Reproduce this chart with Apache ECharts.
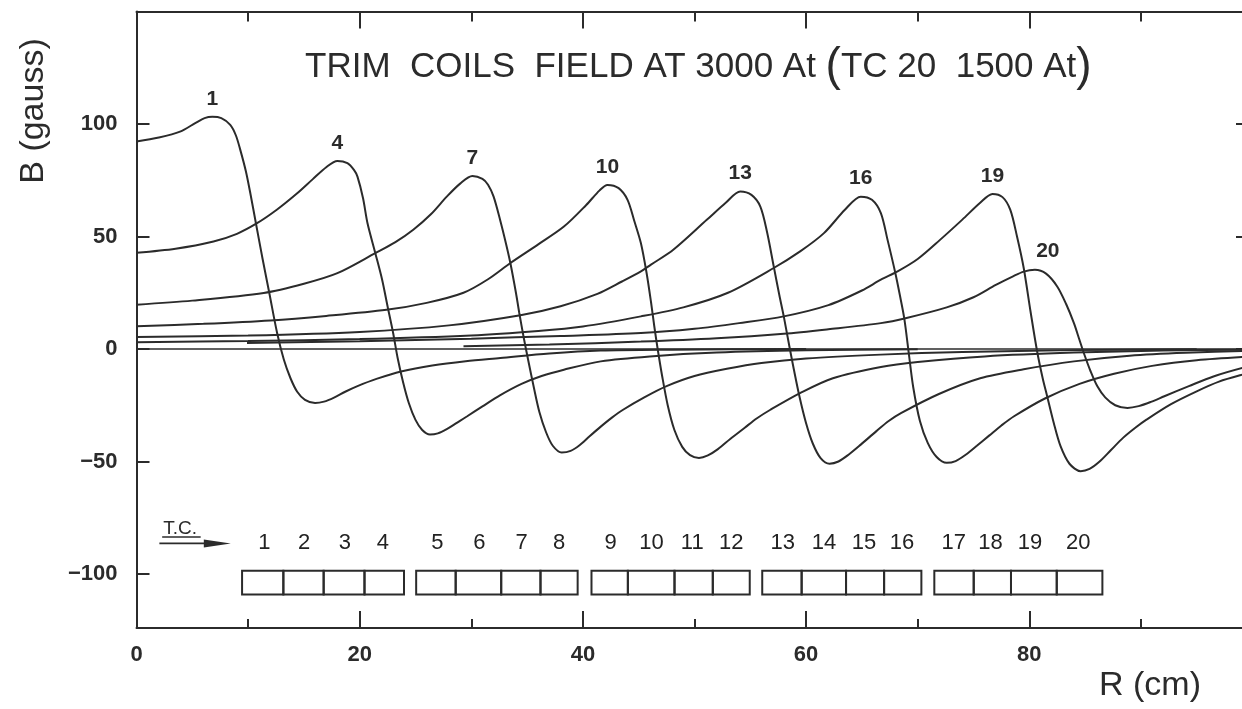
<!DOCTYPE html>
<html><head><meta charset="utf-8">
<script src="https://cdn.jsdelivr.net/npm/echarts@6/dist/echarts.min.js"></script>
<style>html,body{margin:0;padding:0;background:#fff}#c{width:1242px;height:709px}</style>
</head><body><div id="c"></div>
<script>
// ---- data (R in cm, B in gauss) ----
const curve1 = [[0,92.2],[2,94],[3.9,96.6],[5.3,100.5],[6.1,102.6],[6.8,103.2],[7.6,102.6],[8.4,99.6],[8.9,95],[9.3,88.5],[9.8,79],[10.2,69.2],[10.7,55.9],[11.3,40],[11.9,24.9],[12.6,7.1],[13.2,-4.7],[13.8,-13],[14.4,-19],[15.1,-22.6],[16,-24],[16.8,-23.4],[17.7,-21.6],[18.7,-19],[19.8,-16.5],[21.5,-13.3],[23.7,-10],[26.5,-7.3],[29.5,-5.4],[32.6,-4],[37,-2],[41.6,-0.7],[48,-0.3],[60,0]];
const curve4 = [[0,42.8],[3.5,44.6],[6.9,47.8],[9,51.2],[10.8,55.9],[12.6,62],[14.4,69.2],[15.8,75.5],[17,80.8],[18,83.6],[18.9,82.6],[19.5,79.5],[19.8,76.6],[20.3,67],[20.7,55.9],[21.4,42.6],[22,31],[22.5,18.9],[23,7],[23.4,-4],[23.9,-15],[24.4,-24],[25,-31.5],[25.6,-36],[26.3,-38],[27,-37.5],[27.8,-35.6],[28.7,-32.8],[29.6,-30],[31,-25.5],[32.6,-20.5],[34.5,-15.5],[36.3,-12],[38.3,-9.2],[41.6,-5.5],[46,-3.3],[52,-1.6],[60,-0.6],[70,-0.1]];
const curve7 = [[0,19.7],[5,21.5],[11.4,24.9],[15,29],[18,33.7],[21.4,42.6],[23.2,47.5],[24.8,53],[26.4,60],[27.8,67.7],[29,73.5],[30.1,76.9],[31,75.6],[31.5,73],[32,67.7],[32.6,57],[33.1,47],[33.5,38.2],[34,25],[34.3,16],[34.7,5],[35.1,-5],[35.6,-17],[36.1,-28],[36.7,-37],[37.3,-43],[38.1,-46],[38.9,-45.3],[39.7,-42.8],[40.6,-38.8],[41.6,-34.5],[42.6,-30.5],[43.6,-27],[45.5,-21.5],[47.5,-16.5],[50,-12],[52.9,-8.8],[56,-6.2],[60,-4.2],[66.7,-2.5],[74,-1.3],[84,-0.5],[95,-0.1]];
const curve10 = [[0,10.1],[6,11.2],[12,12.7],[17,14.7],[22.4,17.4],[26,20.5],[29.3,25],[31.5,31],[33.5,38.2],[36,46.5],[38.3,54.4],[40.3,64],[41.5,70.5],[42.2,72.9],[43.2,71.5],[44,66.3],[44.6,57],[45.2,47],[45.7,34],[46.1,21],[46.4,10],[46.7,0],[47.1,-12],[47.6,-25],[48.2,-36],[48.9,-43.5],[49.6,-47.2],[50.4,-48.4],[51.2,-47.3],[52.1,-44.5],[53.2,-40],[54.5,-35],[55.6,-30.8],[56.8,-27],[59.5,-19.5],[62.4,-13],[66.7,-8],[70,-5.8],[76,-3.3],[84,-1.6],[92,-0.7],[100,-0.3]];
const curve13 = [[0,5.3],[10,6],[20,7.6],[28,10.5],[34.4,15],[38,19],[41.3,24.5],[43.5,30],[45.2,34.5],[46.1,37.5],[48.1,44.1],[51.1,57.4],[52.8,65],[54.1,70],[55.1,68.5],[55.9,63.3],[56.5,52],[57.1,36.7],[57.6,24],[58,14.5],[58.5,1.2],[58.9,-9],[59.4,-21],[60,-33],[60.6,-42],[61.3,-48.5],[62.1,-51],[62.9,-50],[63.8,-47],[64.9,-42.5],[66.3,-36.5],[67.4,-32],[68.5,-28.5],[71.9,-20],[75.6,-13],[79.5,-9],[84,-5.5],[89,-3],[94,-1.7],[100,-0.8]];
const curve16 = [[0,3],[10,3.6],[20,4.4],[30,6],[36,8],[40,10],[45.2,14.5],[49,18.5],[53,25],[57.1,36],[59.5,43.5],[61.6,51.5],[63.5,62],[64.9,67.7],[65.9,66.3],[66.7,60.4],[67.3,48.5],[68,33.7],[68.4,24],[68.8,13.5],[69.2,-1.8],[69.6,-17],[70.2,-32],[70.9,-41.7],[71.7,-48],[72.6,-50.6],[73.4,-49.8],[74.3,-47],[75.3,-43],[76.4,-38.5],[77.5,-34],[78.6,-30],[81.4,-22],[84.5,-15.5],[87.6,-11],[91,-7.5],[95,-5],[100,-3.3]];
const curve19 = [[9.9,2.7],[20,3.4],[30,4.6],[38,5.8],[45.2,7.1],[50,9],[54,11.5],[58,14.5],[62,19.5],[65,26],[66.7,30.8],[68.2,34.5],[70,40],[72,48.5],[74,57.5],[75.6,65],[76.7,68.9],[77.6,67.5],[78.3,61.8],[78.9,50],[79.5,36],[80.1,17],[80.7,-1],[81.2,-13],[81.6,-21],[82.2,-33],[82.8,-43.2],[83.6,-51],[84.6,-54.3],[85.4,-53.3],[86.3,-50],[87.3,-45],[88.4,-39.5],[89.5,-35],[90.5,-31.4],[92.7,-24.5],[95,-18.8],[97,-14.5],[99.1,-11.4],[100,-10.4]];
const curve20 = [[29.3,1.2],[37,2],[45.2,3.3],[52,4.8],[58,6.8],[62,8.8],[66.7,11.5],[69,13.8],[72.6,18.5],[75,23],[77,28.5],[78.5,32.2],[79.5,34.4],[80.5,35.2],[81.5,33.5],[82.5,27.8],[83.3,20],[84,11.5],[84.5,4],[84.9,-2],[85.5,-10],[86.1,-16.6],[86.8,-21.5],[87.7,-25],[88.8,-26.2],[89.8,-25.4],[90.9,-23.5],[92.1,-21],[94.3,-16.5],[96.5,-12.2],[99.1,-8.4],[100,-7.6]];
const zeroLine = [[0,0],[100,0]];
const curveNames = ['1','4','7','10','13','16','19','20'];
const curves = [curve1, curve4, curve7, curve10, curve13, curve16, curve19, curve20];
const xMajorTicks = [0, 20, 40, 60, 80];
const xMinorTicks = [10, 30, 50, 70, 90];
const yTicks = [-100, -50, 0, 50, 100];
// trim coil radial extents (cm), groups of four
const coilGroup1 = [9.46, 13.16, 16.77, 20.43, 23.97];
const coilGroup2 = [25.06, 28.6, 32.68, 36.2, 39.53];
const coilGroup3 = [40.77, 44.03, 48.21, 51.64, 54.95];
const coilGroup4 = [56.07, 59.6, 63.58, 66.99, 70.33];
const coilGroup5 = [71.49, 75.02, 78.36, 82.46, 86.55];
const coilNumbers = ['1','2','3','4','5','6','7','8','9','10','11','12','13','14','15','16','17','18','19','20'];
const coilLabelR = [11.45,15.02,18.66,22.08,26.95,30.73,34.5,37.86,42.48,46.15,49.8,53.3,57.9,61.6,65.19,68.6,73.22,76.52,80.06,84.39];

// ---- chart ----
const INK = '#2b2b2b';
const FONT = '"Liberation Sans", Arial, Helvetica, sans-serif';
const X_MAX = 99.06;   // the plot is cut by the picture's right edge just before R = 100 cm
const chart = echarts.init(document.getElementById('c'), null, {renderer: 'canvas'});

const coilBoxes = [];
[coilGroup1, coilGroup2, coilGroup3, coilGroup4, coilGroup5].forEach(g => {
  for (let i = 0; i < g.length - 1; i++) coilBoxes.push([g[i], g[i + 1]]);
});
const BOX_TOP = -98.6, BOX_BOT = -109.1, NUM_Y = -86.1;

const series = curves.map((d, i) => ({
  name: curveNames[i], type: 'line', data: d, showSymbol: false, smooth: 0.3,
  lineStyle: {color: INK, width: 2}, itemStyle: {color: INK}, z: 3, silent: true, clip: true,
  markPoint: {
    symbol: 'circle', symbolSize: 1, itemStyle: {color: 'rgba(0,0,0,0)'},
    data: [{type: 'max'}],
    label: {show: true, position: 'inside', offset: curveNames[i] === '20' ? [13, -19] : [0, -18],
      formatter: p => p.seriesName, color: INK, textBorderWidth: 0, fontFamily: FONT, fontWeight: 'bold', fontSize: 21}
  }
}));
series.push({type: 'line', data: zeroLine, showSymbol: false, lineStyle: {color: INK, width: 1.6}, z: 2, silent: true, clip: true});
series.push({
  type: 'custom', data: coilBoxes, silent: true, z: 4,
  renderItem: (params, api) => {
    const a = api.coord([api.value(0), BOX_TOP]);
    const b = api.coord([api.value(1), BOX_BOT]);
    return {type: 'rect', shape: {x: a[0], y: a[1], width: b[0] - a[0], height: b[1] - a[1]},
      style: {fill: 'none', stroke: INK, lineWidth: 2}};
  }
});
// coil numbers
series.push({
  type: 'custom', silent: true, z: 4,
  data: coilLabelR.map((r, i) => [r, NUM_Y, i]),
  renderItem: (params, api) => {
    const p = api.coord([api.value(0), api.value(1)]);
    return {type: 'text', x: p[0], y: p[1], style: {
      text: coilNumbers[api.value(2)], fill: '#222', font: '22px ' + FONT,
      textAlign: 'center', textVerticalAlign: 'middle'}};
  }
});
// T.C. arrow annotation
series.push({
  type: 'custom', data: [[2.05, 8.45, -86.4]], silent: true, z: 4,
  renderItem: (params, api) => {
    const s = api.coord([api.value(0), api.value(2)]);
    const e = api.coord([api.value(1), api.value(2)]);
    const t = api.coord([3.9, -80]);
    const u0 = api.coord([2.3, -83.6]);
    const u1 = api.coord([5.75, -83.6]);
    return {type: 'group', children: [
      {type: 'line', shape: {x1: s[0], y1: s[1], x2: e[0] - 20, y2: e[1]}, style: {stroke: INK, lineWidth: 1.8}},
      {type: 'polygon', shape: {points: [[e[0], e[1]], [e[0] - 27, e[1] - 4], [e[0] - 27, e[1] + 4]]}, style: {fill: INK}},
      {type: 'text', x: t[0], y: t[1], style: {text: 'T.C.', fill: INK, font: '19px ' + FONT, textAlign: 'center', textVerticalAlign: 'middle'}},
      {type: 'line', shape: {x1: u0[0], y1: u0[1], x2: u1[0], y2: u1[1]}, style: {stroke: INK, lineWidth: 1.5}}
    ]};
  }
});

function xAxisDef(position, ticks, len, withLine, withLabels) {
  return {
    type: 'value', min: 0, max: X_MAX, position: position, offset: 0,
    axisLine: {show: withLine, onZero: false, lineStyle: {color: INK, width: 2}},
    axisTick: {show: true, inside: true, length: len, customValues: ticks, lineStyle: {color: INK, width: 2}},
    axisLabel: withLabels
      ? {show: true, customValues: ticks, margin: 16, color: INK, fontFamily: FONT, fontWeight: 'bold', fontSize: 22}
      : {show: false},
    splitLine: {show: false}
  };
}
const yAxisBase = {
  type: 'value', min: -124, max: 150,
  axisLine: {show: true, onZero: false, lineStyle: {color: INK, width: 2}},
  axisTick: {show: true, inside: true, length: 13, customValues: yTicks, lineStyle: {color: INK, width: 2}},
  splitLine: {show: false}
};

chart.setOption({
  animation: false,
  backgroundColor: '#fff',
  grid: {left: 136.5, top: 11.5, bottom: 81, right: 0, containLabel: false},
  xAxis: [
    xAxisDef('bottom', xMajorTicks, 17, true, true),
    xAxisDef('top', xMajorTicks, 17, true, false),
    xAxisDef('bottom', xMinorTicks, 9, false, false),
    xAxisDef('top', xMinorTicks, 10, false, false)
  ],
  yAxis: [
    Object.assign({}, yAxisBase, {position: 'left',
      axisLabel: {show: true, customValues: yTicks, margin: 19, color: INK, fontFamily: FONT, fontWeight: 'bold', fontSize: 22,
        formatter: v => v < 0 ? '\u2212' + Math.abs(v) : String(v)}}),
    Object.assign({}, yAxisBase, {position: 'right', axisLine: {show: false, onZero: false},
      axisTick: {show: true, inside: true, length: 6, customValues: [0, 50, 100], lineStyle: {color: INK, width: 2}},
      axisLabel: {show: false}})
  ],
  series: series,
  graphic: [
    {type: 'text', left: 305, top: 44, style: {
      text: 'TRIM  COILS  FIELD AT 3000 At {p|(}TC 20  1500 At{p|)}',
      fill: INK, font: '35px ' + FONT,
      rich: {p: {fontSize: 46, fontFamily: FONT, fill: INK}}
    }},
    {type: 'text', x: 34, y: 111, rotation: Math.PI / 2, style: {
      text: 'B (gauss)', fill: INK, font: '34px ' + FONT, textAlign: 'center', textVerticalAlign: 'middle'}},
    {type: 'text', x: 1150, y: 686, style: {
      text: 'R (cm)', fill: INK, font: '34px ' + FONT, textAlign: 'center', textVerticalAlign: 'middle'}}
  ]
});
</script></body></html>
